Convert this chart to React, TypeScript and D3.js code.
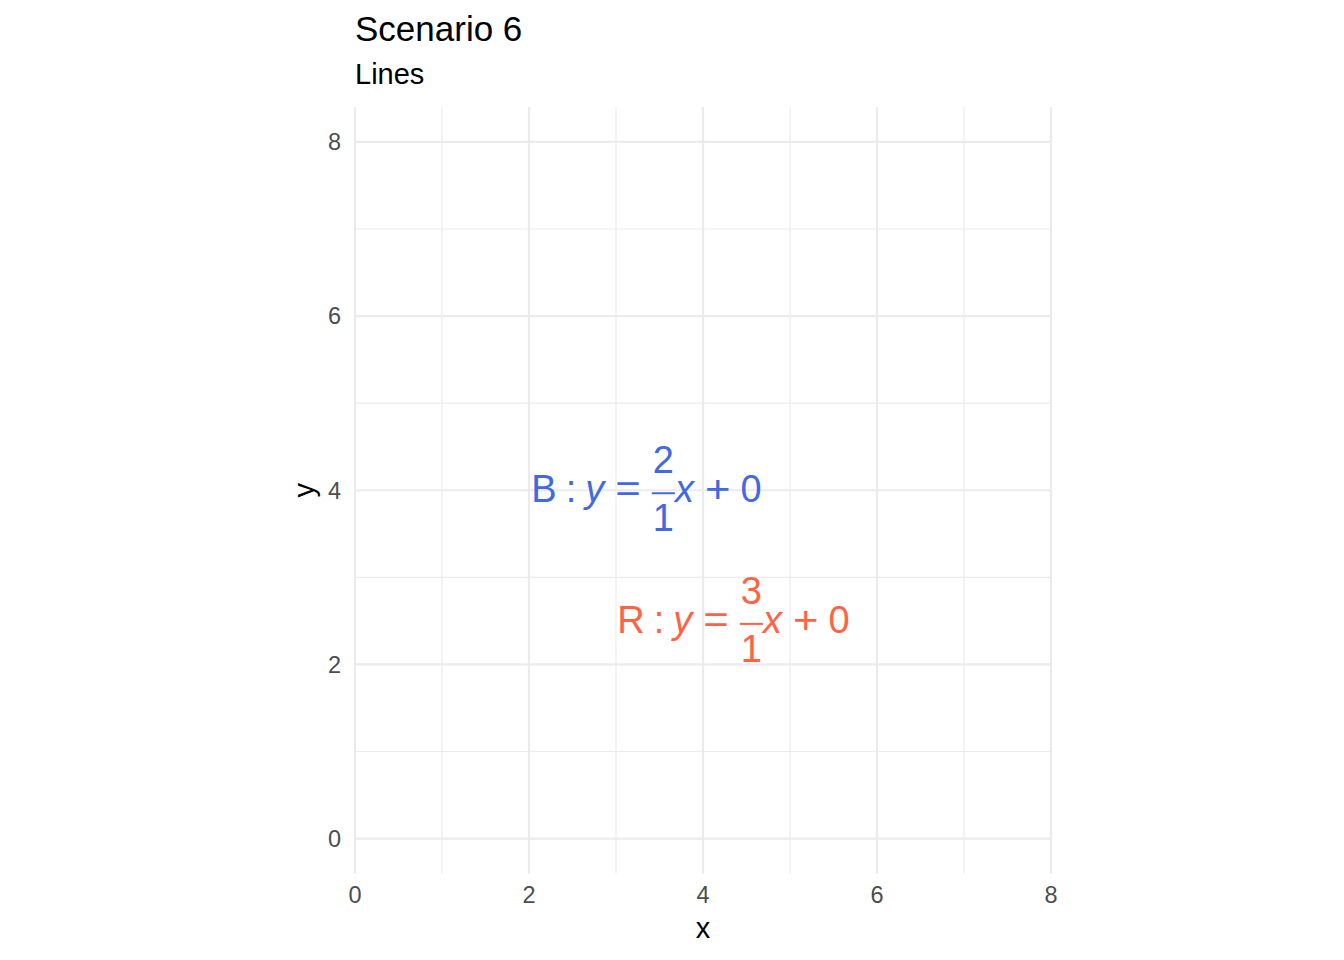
import React, { useEffect, useRef } from 'react'
import * as d3 from 'd3'

const xTicks = [0, 2, 4, 6, 8]
const yTicks = [0, 2, 4, 6, 8]
const minorTicks = [1, 3, 5, 7]

// equation labels: y = num/den * x + intercept
const labelNames = ['B', 'R']
const labelNum = [2, 3]
const labelDen = [1, 1]
const labelIntercept = [0, 0]
const labelX = [3.35, 4.35]
const labelY = [4, 2.5]
const labelColors = ['#4169E1', '#FF6347']

const App: React.FC = () => {
  const svgRef = useRef<SVGSVGElement | null>(null)

  useEffect(() => {
    if (!svgRef.current) return
    const svg = d3.select(svgRef.current)
    svg.selectAll('*').remove()

    const font = '"Liberation Sans", Arial, sans-serif'
    const x = d3.scaleLinear().domain([0, 8]).range([355, 1051])
    const y = d3.scaleLinear().domain([-0.4, 8.4]).range([873.5, 107])

    const grid = svg.append('g')
    // minor grid
    minorTicks.forEach((t) => {
      grid.append('line').attr('x1', x(t)).attr('x2', x(t)).attr('y1', y(-0.4)).attr('y2', y(8.4))
        .attr('stroke', '#EBEBEB').attr('stroke-width', 1.1)
      grid.append('line').attr('x1', x(0)).attr('x2', x(8)).attr('y1', y(t)).attr('y2', y(t))
        .attr('stroke', '#EBEBEB').attr('stroke-width', 1.1)
    })
    xTicks.forEach((t) => {
      grid.append('line').attr('x1', x(t)).attr('x2', x(t)).attr('y1', y(-0.4)).attr('y2', y(8.4))
        .attr('stroke', '#EBEBEB').attr('stroke-width', 2.2)
    })
    yTicks.forEach((t) => {
      grid.append('line').attr('x1', x(0)).attr('x2', x(8)).attr('y1', y(t)).attr('y2', y(t))
        .attr('stroke', '#EBEBEB').attr('stroke-width', 2.2)
    })

    // tick labels
    svg.append('g').selectAll('text').data(xTicks).join('text')
      .attr('x', (d) => x(d)).attr('y', 903).attr('text-anchor', 'middle')
      .attr('font-family', font).attr('font-size', 23.5).attr('fill', '#4D4D4D')
      .text((d) => d)
    svg.append('g').selectAll('text').data(yTicks).join('text')
      .attr('x', 341).attr('y', (d) => y(d) + 8.4).attr('text-anchor', 'end')
      .attr('font-family', font).attr('font-size', 23.5).attr('fill', '#4D4D4D')
      .text((d) => d)

    // axis titles
    svg.append('text').attr('x', x(4)).attr('y', 938).attr('text-anchor', 'middle')
      .attr('font-family', font).attr('font-size', 29).attr('fill', '#000').text('x')
    svg.append('text').attr('transform', `translate(314,${y(4)}) rotate(-90)`)
      .attr('text-anchor', 'middle').attr('font-family', font).attr('font-size', 29)
      .attr('fill', '#000').text('y')

    // title / subtitle
    svg.append('text').attr('x', 355).attr('y', 41).attr('font-family', font)
      .attr('font-size', 35).attr('fill', '#000').text('Scenario 6')
    svg.append('text').attr('x', 355).attr('y', 84).attr('font-family', font)
      .attr('font-size', 29).attr('fill', '#000').text('Lines')

    // equation labels
    const fs = 38
    labelNames.forEach((name, i) => {
      const color = labelColors[i]
      const g = svg.append('g').attr('fill', color).attr('font-family', font).attr('font-size', fs)
      const base = y(labelY[i]) + 12
      let cx = 0
      const put = (s: string, italic = false, gap = 0, sx = 1) => {
        cx += gap
        const t = g.append('text').attr('x', cx / sx).attr('y', base).text(s)
        if (italic) t.attr('font-style', 'italic')
        if (sx !== 1) t.attr('transform', `scale(${sx},1)`)
        const w = (t.node() as SVGTextElement).getComputedTextLength() * sx
        cx += w
        return t
      }
      put(name)
      put(':', false, 9)
      put('y', true, 9)
      put('=', false, 11, 1.15)
      // fraction
      cx += 11
      const n = g.append('text').attr('y', base - 29).attr('text-anchor', 'middle').text(String(labelNum[i]))
      const dn = g.append('text').attr('y', base + 29).attr('text-anchor', 'middle').text(String(labelDen[i]))
      const fw = Math.max(
        (n.node() as SVGTextElement).getComputedTextLength(),
        (dn.node() as SVGTextElement).getComputedTextLength()
      ) + 2
      n.attr('x', cx + fw / 2)
      dn.attr('x', cx + fw / 2)
      g.append('line').attr('x1', cx).attr('x2', cx + fw).attr('y1', base - 9).attr('y2', base - 9)
        .attr('stroke', color).attr('stroke-width', 2)
      cx += fw
      put('x', true, 0)
      put('+', false, 11, 1.15)
      put(String(labelIntercept[i]), false, 10)
      g.attr('transform', `translate(${x(labelX[i]) - cx / 2},0)`)
    })
  }, [])

  return (
    <svg ref={svgRef} width={1344} height={960} style={{ display: 'block', position: 'absolute', left: 0, top: 0 }} />
  )
}

export default App
